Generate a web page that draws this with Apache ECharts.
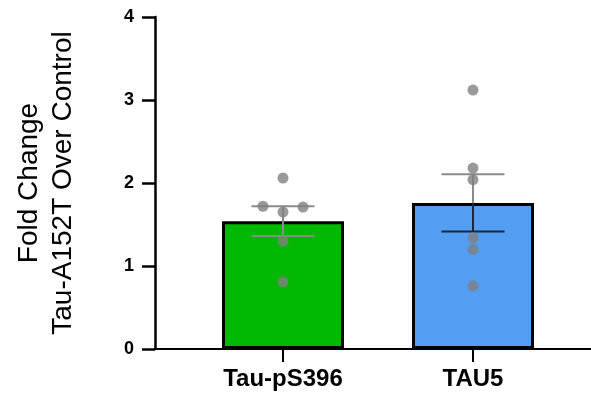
<!DOCTYPE html>
<html>
<head>
<meta charset="utf-8">
<script src="https://cdn.jsdelivr.net/npm/echarts@6/dist/echarts.min.js"></script>
<style>html,body{margin:0;padding:0;background:#fff;}#c{width:591px;height:398px;}</style>
</head>
<body>
<div id="c"></div>
<script>
// ---- data ----
var categories = ['Tau-pS396', 'TAU5'];
var means = [1.54, 1.76];
var sems = [0.18, 0.345];
var pointsPS396 = [2.06, 1.72, 1.71, 1.65, 1.30, 0.81];
var pointsTAU5 = [3.12, 2.18, 2.04, 1.34, 1.20, 0.76];
var yTicks = [0, 1, 2, 3, 4];

// ---- styles ----
var barColors = ['#00b900', '#539df2'];
var pointOffsetsPS396 = [0, -20, 20, 0, 0, 0];
var errUpperColors = ['#8a8a8a', '#8a8a8a'];
var errLowerColors = ['#8a8a8a', '#1d2738'];
var FONT = '"Liberation Sans", Arial, Helvetica, sans-serif';

var chart = echarts.init(document.getElementById('c'), null, {renderer: 'canvas'});

var scatterData = [];
pointsPS396.forEach(function (v, i) {
  scatterData.push({value: [0, v], symbolOffset: [pointOffsetsPS396[i], 0]});
});
pointsTAU5.forEach(function (v) {
  scatterData.push({value: [1, v]});
});

var errData = means.map(function (m, i) { return [i, m - sems[i], m + sems[i]]; });

var option = {
  animation: false,
  backgroundColor: '#ffffff',
  grid: [
    {left: 188, right: 23, top: 17, bottom: 49},
    {left: 155, right: 0, top: 17, bottom: 49}
  ],
  xAxis: [
    {
      type: 'category', gridIndex: 0, data: categories,
      axisLine: {show: false},
      axisTick: {show: true, alignWithLabel: true, length: 13, lineStyle: {color: '#000', width: 2}},
      axisLabel: {margin: 18, color: '#000', fontSize: 24, fontWeight: 'bold', fontFamily: FONT},
      splitLine: {show: false}
    },
    {
      type: 'value', gridIndex: 1, min: 0, max: 1,
      axisLine: {show: true, lineStyle: {color: '#000', width: 2}},
      axisTick: {show: false}, axisLabel: {show: false}, splitLine: {show: false}
    }
  ],
  yAxis: [
    {
      type: 'value', gridIndex: 0, min: yTicks[0], max: yTicks[yTicks.length - 1], interval: 1,
      show: false, splitLine: {show: false}
    },
    {
      type: 'value', gridIndex: 1, min: yTicks[0], max: yTicks[yTicks.length - 1], interval: 1,
      axisLine: {show: true, lineStyle: {color: '#000', width: 2.5}},
      axisTick: {show: true, length: 13, lineStyle: {color: '#000', width: 2.5}},
      axisLabel: {margin: 21, color: '#000', fontSize: 18, fontWeight: 'bold', fontFamily: FONT},
      splitLine: {show: false},
      name: 'Fold Change\nTau-A152T Over Control',
      nameLocation: 'middle', nameGap: 75, nameRotate: 90,
      nameTextStyle: {color: '#000', fontSize: 28, lineHeight: 34, fontFamily: FONT}
    }
  ],
  series: [
    {
      type: 'bar', xAxisIndex: 0, yAxisIndex: 0, barWidth: 122,
      data: means.map(function (m, i) {
        return {value: m, itemStyle: {color: barColors[i], borderColor: '#000', borderWidth: 3}};
      }),
      z: 2
    },
    {
      type: 'custom', xAxisIndex: 0, yAxisIndex: 0, z: 3,
      data: errData,
      renderItem: function (params, api) {
        var idx = api.value(0);
        var mid = api.coord([idx, means[idx]]);
        var lo = api.coord([idx, api.value(1)]);
        var hi = api.coord([idx, api.value(2)]);
        var hw = 31.5;
        var up = {stroke: errUpperColors[idx], lineWidth: 2};
        var dn = {stroke: errLowerColors[idx], lineWidth: 2};
        return {
          type: 'group',
          children: [
            {type: 'line', shape: {x1: mid[0], y1: mid[1], x2: hi[0], y2: hi[1]}, style: up},
            {type: 'line', shape: {x1: hi[0] - hw, y1: hi[1], x2: hi[0] + hw, y2: hi[1]}, style: up},
            {type: 'line', shape: {x1: mid[0], y1: mid[1], x2: lo[0], y2: lo[1]}, style: dn},
            {type: 'line', shape: {x1: lo[0] - hw, y1: lo[1], x2: lo[0] + hw, y2: lo[1]}, style: dn}
          ]
        };
      }
    },
    {
      type: 'scatter', xAxisIndex: 0, yAxisIndex: 0, z: 4,
      symbol: 'circle', symbolSize: 11,
      itemStyle: {color: '#808080'},
      data: scatterData
    }
  ]
};
chart.setOption(option);
</script>
</body>
</html>
